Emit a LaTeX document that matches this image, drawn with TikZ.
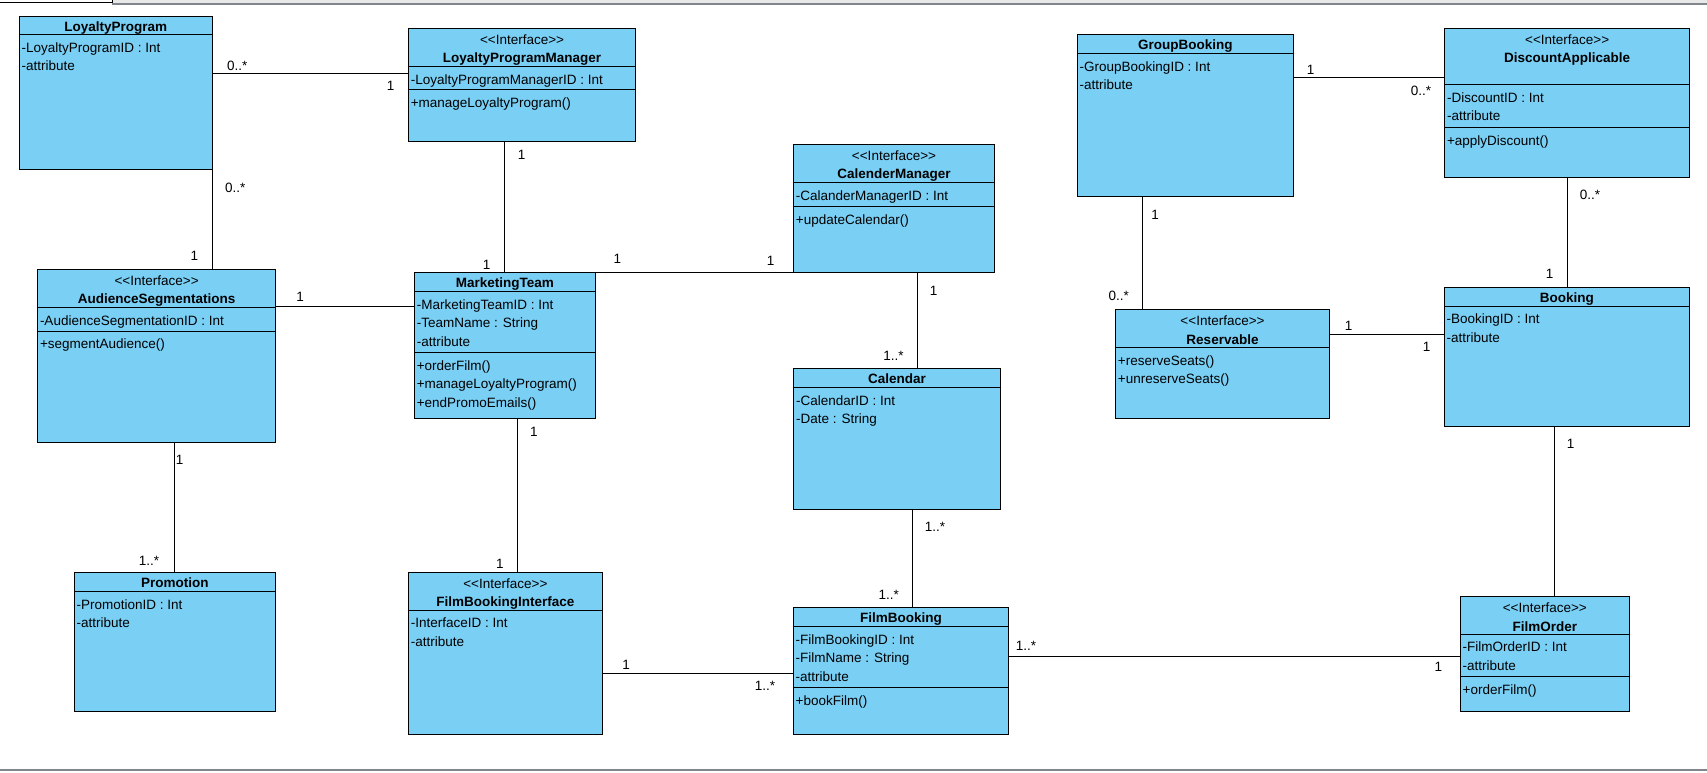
\documentclass[tikz,border=0pt]{standalone}
\usepackage{fontspec}
\setmainfont{Liberation Sans}
\definecolor{clsfill}{RGB}{122,207,245}
\definecolor{framegray}{RGB}{128,134,140}
\definecolor{tabgray}{RGB}{232,232,232}

% class box: name, left, top, width, height
\newcommand\umlbox[5]{\node[cls, minimum width=#4, minimum height=#5] (#1) at (#2,#3) {};}
% compartment divider: box, y
\newcommand\umlsep[2]{\draw[sepline] (#1.west |- 0,#2) -- (#1.east |- 0,#2);}
% left aligned member text: box, baseline, text
\newcommand\umlmem[3]{\node[member] at (#1.west |- 0,#2) {#3};}
% centred header text: box, baseline, text
\newcommand\umlname[3]{\node[cname] at (#1.center |- 0,#2) {\bfseries #3};}
% stereotype line (kerns keep the angle brackets from becoming guillemets)
\newcommand\umlstereo[2]{\node[cname] at (#1.center |- 0,#2) {<\kern0pt<Interface>\kern0pt>};}

\begin{document}
\begin{tikzpicture}[x=1pt,y=-1pt,
  every node/.style={font=\fontsize{13.5}{16}\selectfont},
  cls/.style={draw=black, line width=0.95pt, fill=clsfill, anchor=north west, inner sep=0pt, outer sep=0pt},
  sepline/.style={draw=black, line width=0.95pt},
  member/.style={anchor=base west, inner sep=0pt, xshift=2.2pt},
  cname/.style={anchor=base, inner sep=0pt},
  assoc/.style={draw=black, line width=1pt},
  mult/.style={anchor=base, inner sep=0pt}]
\useasboundingbox (0,0) rectangle (1707,772);
\fill[white] (0,0) rectangle (1707,772);

% window frame lines
\fill[tabgray] (112.3,0) rectangle (1707,3.2);
\draw[framegray, line width=1.6pt] (112.3,3.9) -- (1707,3.9);
\draw[black, line width=0.9pt] (0,2.2) -- (112.3,2.2) -- (112.3,0);
\draw[framegray, line width=1.4pt] (0,770) -- (1707,770);

% ---------- classes ----------
% LoyaltyProgram
\umlbox{LP}{19.3}{16}{193}{153.3}
\umlsep{LP}{34.3}
\umlname{LP}{31}{LoyaltyProgram}
\umlmem{LP}{52.1}{-LoyaltyProgramID : Int}
\umlmem{LP}{70.4}{-attribute}

% LoyaltyProgramManager
\umlbox{LPM}{408.4}{28.3}{227.3}{113.4}
\umlsep{LPM}{66.3}
\umlsep{LPM}{89.3}
\umlstereo{LPM}{44.3}
\umlname{LPM}{62.7}{LoyaltyProgramManager}
\umlmem{LPM}{84.1}{-LoyaltyProgramManagerID : Int}
\umlmem{LPM}{107.1}{+manageLoyaltyProgram()}

% CalenderManager
\umlbox{CM}{793.5}{144}{201}{128.5}
\umlsep{CM}{182.3}
\umlsep{CM}{206.3}
\umlstereo{CM}{160}
\umlname{CM}{178.4}{CalenderManager}
\umlmem{CM}{200.1}{-CalanderManagerID : Int}
\umlmem{CM}{224.1}{+updateCalendar()}

% MarketingTeam
\umlbox{MT}{414.4}{272.5}{181.1}{145.8}
\umlsep{MT}{291.7}
\umlsep{MT}{352.7}
\umlname{MT}{287.7}{MarketingTeam}
\umlmem{MT}{309.5}{-MarketingTeamID : Int}
\umlmem{MT}{327.8}{-TeamName : String}
\umlmem{MT}{346.1}{-attribute}
\umlmem{MT}{370.5}{+orderFilm()}
\umlmem{MT}{388.8}{+manageLoyaltyProgram()}
\umlmem{MT}{407.1}{+endPromoEmails()}

% AudienceSegmentations
\umlbox{AS}{37.6}{269.3}{238}{173.4}
\umlsep{AS}{307.3}
\umlsep{AS}{331}
\umlstereo{AS}{285.3}
\umlname{AS}{303.7}{AudienceSegmentations}
\umlmem{AS}{325.1}{-AudienceSegmentationID : Int}
\umlmem{AS}{348.8}{+segmentAudience()}

% Promotion
\umlbox{PR}{74.3}{572.3}{201.3}{139.4}
\umlsep{PR}{591.7}
\umlname{PR}{587.3}{Promotion}
\umlmem{PR}{609.5}{-PromotionID : Int}
\umlmem{PR}{627.8}{-attribute}

% FilmBookingInterface
\umlbox{FBI}{408.5}{572.3}{193.7}{162}
\umlsep{FBI}{610}
\umlstereo{FBI}{588.3}
\umlname{FBI}{606.7}{FilmBookingInterface}
\umlmem{FBI}{627.8}{-InterfaceID : Int}
\umlmem{FBI}{646.1}{-attribute}

% Calendar
\umlbox{CAL}{793.7}{368.3}{206.6}{141}
\umlsep{CAL}{387.3}
\umlname{CAL}{383.3}{Calendar}
\umlmem{CAL}{405.1}{-CalendarID : Int}
\umlmem{CAL}{423.4}{-Date : String}

% FilmBooking
\umlbox{FB}{793.3}{607.3}{215.5}{127}
\umlsep{FB}{626.7}
\umlsep{FB}{687.3}
\umlname{FB}{622.3}{FilmBooking}
\umlmem{FB}{644.5}{-FilmBookingID : Int}
\umlmem{FB}{662.8}{-FilmName : String}
\umlmem{FB}{681.1}{-attribute}
\umlmem{FB}{705.1}{+bookFilm()}

% GroupBooking
\umlbox{GB}{1077.3}{34.3}{216.2}{162}
\umlsep{GB}{53.3}
\umlname{GB}{49.3}{GroupBooking}
\umlmem{GB}{71.1}{-GroupBookingID : Int}
\umlmem{GB}{89.4}{-attribute}

% DiscountApplicable
\umlbox{DA}{1444.6}{28.3}{245.1}{149}
\umlsep{DA}{84.3}
\umlsep{DA}{127.3}
\umlstereo{DA}{44.3}
\umlname{DA}{62.7}{DiscountApplicable}
\umlmem{DA}{102.1}{-DiscountID : Int}
\umlmem{DA}{120.4}{-attribute}
\umlmem{DA}{145.1}{+applyDiscount()}

% Reservable
\umlbox{RES}{1115.5}{309.7}{214}{108.6}
\umlsep{RES}{347.7}
\umlstereo{RES}{325.7}
\umlname{RES}{344}{Reservable}
\umlmem{RES}{365.5}{+reserveSeats()}
\umlmem{RES}{383.8}{+unreserveSeats()}

% Booking
\umlbox{BK}{1444.3}{287.3}{245}{138.7}
\umlsep{BK}{306}
\umlname{BK}{302.3}{Booking}
\umlmem{BK}{323.8}{-BookingID : Int}
\umlmem{BK}{342.1}{-attribute}

% FilmOrder
\umlbox{FO}{1460.3}{596.7}{169}{115}
\umlsep{FO}{634}
\umlsep{FO}{676.3}
\umlstereo{FO}{612.7}
\umlname{FO}{631.1}{FilmOrder}
\umlmem{FO}{651.8}{-FilmOrderID : Int}
\umlmem{FO}{670.1}{-attribute}
\umlmem{FO}{694.1}{+orderFilm()}

% ---------- associations ----------
\draw[assoc] (LP.east |- 0,73) -- (LPM.west |- 0,73);
\draw[assoc] (LP.south east) -- (LP.south east |- AS.north);
\draw[assoc] (LPM.south -| 504.5,0) -- (MT.north -| 504.5,0);
\draw[assoc] (MT.north east) -- (CM.south west);
\draw[assoc] (AS.east |- 0,306) -- (MT.west |- 0,306);
\draw[assoc] (AS.south -| 174.4,0) -- (PR.north -| 174.4,0);
\draw[assoc] (MT.south -| 517.5,0) -- (FBI.north -| 517.5,0);
\draw[assoc] (FBI.east |- 0,673.3) -- (FB.west |- 0,673.3);
\draw[assoc] (CM.south -| 917.3,0) -- (CAL.north -| 917.3,0);
\draw[assoc] (CAL.south -| 912.3,0) -- (FB.north -| 912.3,0);
\draw[assoc] (FB.east |- 0,656.3) -- (FO.west |- 0,656.3);
\draw[assoc] (GB.east |- 0,77.3) -- (DA.west |- 0,77.3);
\draw[assoc] (GB.south -| 1142.3,0) -- (RES.north -| 1142.3,0);
\draw[assoc] (DA.south -| 1567.6,0) -- (BK.north -| 1567.6,0);
\draw[assoc] (RES.east |- 0,334) -- (BK.west |- 0,334);
\draw[assoc] (BK.south -| 1554.3,0) -- (FO.north -| 1554.3,0);

% ---------- multiplicities ----------
\node[mult] (mLPa) at (237.3,70.7) {0..*};
\node[mult] (mLPb) at (390.7,90.7) {1};
\node[mult] (mLPc) at (235.2,192.3) {0..*};
\node[mult] (mASa) at (194.5,260) {1};
\node[mult] (mLPMa) at (521.5,159.3) {1};
\node[mult] (mMTa) at (486.5,269) {1};
\node[mult] (mMTb) at (617.3,263.5) {1};
\node[mult] (mCMa) at (770.5,265.5) {1};
\node[mult] (mASb) at (300,301.7) {1};
\node[mult] (mASc) at (179.6,464.3) {1};
\node[mult] (mPRa) at (149,565) {1..*};
\node[mult] (mMTc) at (533.8,436) {1};
\node[mult] (mFBIa) at (499.8,568.3) {1};
\node[mult] (mFBIb) at (626,669) {1};
\node[mult] (mFBa) at (765,690) {1..*};
\node[mult] (mCMb) at (933.5,295) {1};
\node[mult] (mCALa) at (893.6,360) {1..*};
\node[mult] (mCALb) at (935,531.7) {1..*};
\node[mult] (mFBb) at (888.8,599) {1..*};
\node[mult] (mFBc) at (1026,650.7) {1..*};
\node[mult] (mFOa) at (1438.3,671.7) {1};
\node[mult] (mGBa) at (1310.7,74) {1};
\node[mult] (mDAa) at (1421,95) {0..*};
\node[mult] (mGBb) at (1155,219.3) {1};
\node[mult] (mRESa) at (1118.8,300.7) {0..*};
\node[mult] (mDAb) at (1590,199.3) {0..*};
\node[mult] (mBKa) at (1549.5,278.3) {1};
\node[mult] (mRESb) at (1348.5,330.7) {1};
\node[mult] (mBKb) at (1426.5,351) {1};
\node[mult] (mBKc) at (1570.5,448.3) {1};
\end{tikzpicture}
\end{document}
